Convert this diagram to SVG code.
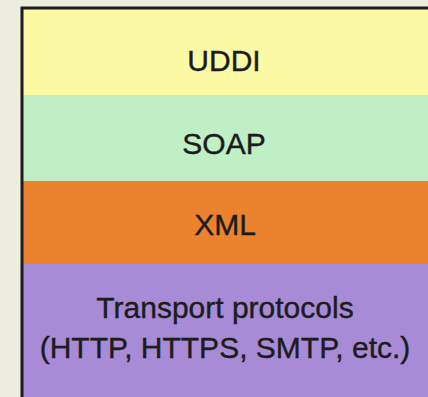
<svg xmlns="http://www.w3.org/2000/svg" width="428" height="397" viewBox="0 0 428 397">
  <style>
    .lbl { font-family: "Liberation Sans", Arial, sans-serif; font-size: 30px; fill: #1c1c1c; stroke: #1c1c1c; stroke-width: 0.4; text-anchor: middle; }
  </style>
  <!-- page background -->
  <rect x="0" y="0" width="428" height="397" fill="#eeeee0"/>
  <!-- protocol stack layers -->
  <g id="uddi">
    <rect x="22" y="8" width="420" height="87" fill="#fbf9a3"/>
    <text class="lbl" x="224" y="71">UDDI</text>
  </g>
  <g id="soap">
    <rect x="22" y="95" width="420" height="86" fill="#c0efc6"/>
    <text class="lbl" x="224" y="154">SOAP</text>
  </g>
  <g id="xml">
    <rect x="22" y="181" width="420" height="83" fill="#eb822e"/>
    <text class="lbl" x="225" y="235">XML</text>
  </g>
  <g id="transport">
    <rect x="22" y="264" width="420" height="140" fill="#a78bd6"/>
    <text class="lbl" x="225" y="318">Transport protocols</text>
    <text class="lbl" x="225" y="358">(HTTP, HTTPS, SMTP, etc.)</text>
  </g>
  <!-- stack outline -->
  <g id="frame">
    <path d="M22 404 V8 H440" fill="none" stroke="#1c1c1c" stroke-width="3"/>
  </g>
</svg>
